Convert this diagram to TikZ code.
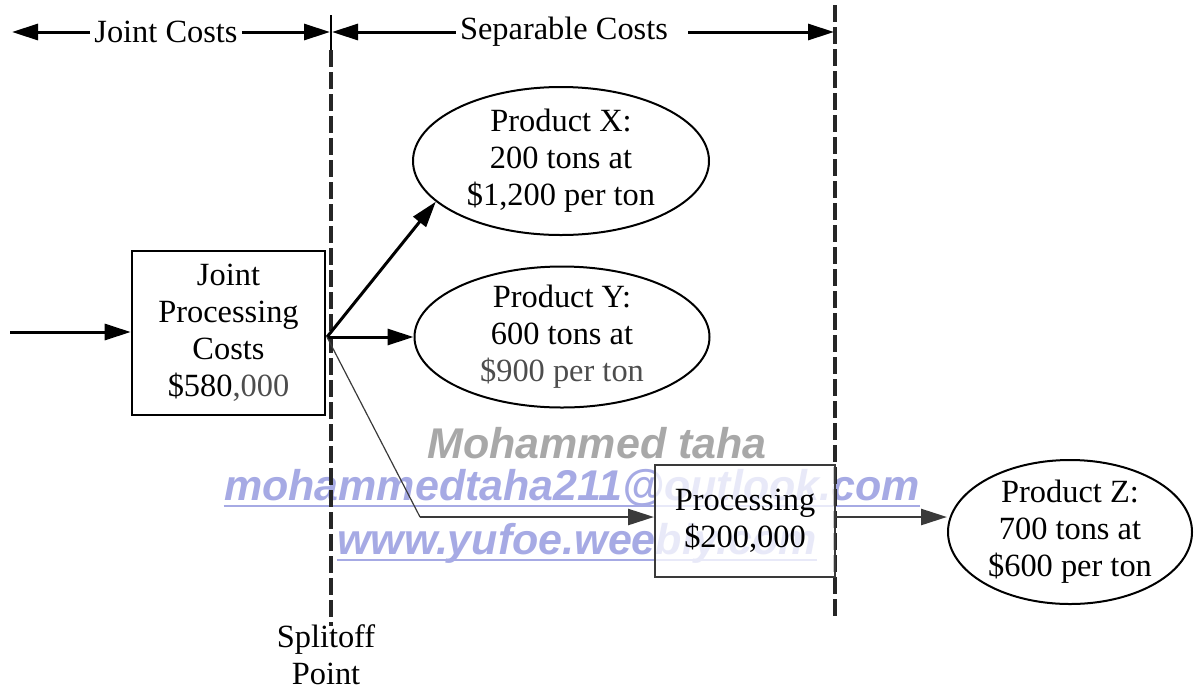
\documentclass[tikz,border=0pt]{standalone}
\usepackage{fontspec}
\setmainfont{Liberation Serif}
\newfontfamily\wmfont{Liberation Sans}
\usetikzlibrary{arrows.meta,shapes.geometric}
\definecolor{linegray}{HTML}{3A3A3A}
\definecolor{softgray}{HTML}{4D4D4D}
\definecolor{wmgray}{HTML}{A8A8A8}
\definecolor{wmblue}{HTML}{A6AAE4}

\begin{document}
\begin{tikzpicture}[x=0.5pt,y=-0.5pt,
  every node/.style={font=\fontsize{16.2}{18.5}\selectfont, align=center},
  box/.style={draw, line width=1.3pt, inner sep=0pt},
  oval/.style={draw, ellipse, line width=1pt, inner xsep=0pt, inner ysep=-3pt},
  tip/.style={-{Triangle[length=13pt,width=8pt]}},
  thick line/.style={line width=1.5pt},
  divider/.style={draw=black!85, line width=1.6pt, dash pattern=on 8.5pt off 2.5pt},
  wm/.style={font=\wmfont\bfseries\itshape\fontsize{21.5}{24}\selectfont, inner sep=0pt}
]
\useasboundingbox (0,0) rectangle (1200,692);

% watermark lettering behind the diagram
\node[wm, text=wmgray] (wm1) at (597,443) {Mohammed taha};
\node[wm, text=wmblue, anchor=base] (wm2) at (572,500) {mohammedtaha211@outlook.com};
\node[wm, text=wmblue, anchor=base] (wm3) at (577,554) {www.yufoe.weebly.com};
\draw[wmblue, line width=1.2pt] ([yshift=-3pt]wm2.base west) -- ([yshift=-3pt]wm2.base east);
\draw[wmblue, line width=1.2pt] ([yshift=-3pt]wm3.base west) -- ([yshift=-3pt]wm3.base east);

% split-off and end-of-processing dividers
\coordinate (d1top) at (331,15);
\coordinate (d1mid) at (331,50);
\coordinate (d1bot) at (331,626);
\coordinate (d2top) at (835,5);
\coordinate (d2bot) at (835,616);
\draw[line width=1.4pt] (d1top) -- (d1mid);
\draw[divider] (d1mid) -- (d1bot);
\draw[divider] (d2top) -- (d2bot);

% cost range labels along the top
\node[inner sep=2pt] (jc) at (166,32) {Joint Costs};
\node[inner sep=2pt] (sc) at (564,32) {Separable Costs};
\coordinate (jcl) at (12,32);
\coordinate (jcr) at (330,32);
\coordinate (scl) at (332,32);
\coordinate (scr) at (834,32);
\draw[thick line, tip] (jc.west) -- (jcl);
\draw[thick line, tip] (jc.east) -- (jcr);
\draw[thick line, tip] (sc.west) -- (scl);
\draw[thick line, tip] ([xshift=8pt]sc.east) -- (scr);

% joint process
\node[box, minimum width=96.5pt, minimum height=82pt] (jp) at (228.5,333)
  {Joint\\Processing\\Costs\\\$580{\color{softgray},000}};
\coordinate (in) at (10,332);
\draw[thick line, tip] (in) -- (jp.west |- in);
\coordinate (split) at (327,337);

% products
\node[oval, minimum width=148pt, minimum height=74pt] (px) at (561,161)
  {Product X:\\200 tons at\\\$1,200 per ton};
\node[oval, minimum width=147.5pt, minimum height=70.5pt] (py) at (562,337)
  {Product Y:\\600 tons at\\{\color{softgray}\$900 per ton}};
\node[box, draw=linegray, line width=1pt, fill=white, fill opacity=0.75, text opacity=1,
      minimum width=90pt, minimum height=56pt] (proc) at (745,521)
  {Processing\\\$200,000};
\node[oval, minimum width=122pt, minimum height=72pt] (pz) at (1070,532)
  {Product Z:\\700 tons at\\\$600 per ton};

\draw[thick line, tip] (split) -- (px.198);
\draw[thick line, tip] (split) -- (py.west);
\coordinate (bend) at (420,517);
\draw[linegray, line width=0.6pt] (split) -- (bend);
\draw[linegray, line width=1.3pt, tip] (bend) -- (proc.west |- bend);
\draw[linegray, line width=1.3pt, tip] (proc.east |- bend) -- (pz.west |- bend);

% splitoff label
\node (sp) at (326,655) {Splitoff\\Point};
\end{tikzpicture}
\end{document}
